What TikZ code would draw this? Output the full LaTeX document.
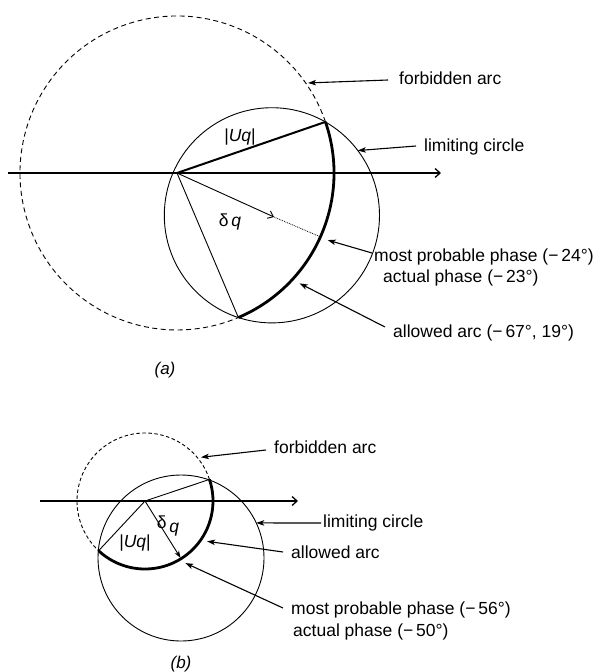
\documentclass[tikz,border=0pt]{standalone}
\usepackage{fontspec}
\setmainfont{Liberation Sans}
\usetikzlibrary{arrows.meta,calc}
\begin{document}
\begin{tikzpicture}[x=1pt,y=1pt,
  lbl/.style={font=\fontsize{17.5}{21}\selectfont, inner sep=0pt, anchor=base west},
  sym/.style={font=\fontsize{17.5}{21}\selectfont, inner sep=0pt},
  figcaption/.style={font=\fontsize{17}{20}\selectfont\itshape, inner sep=0pt},
  callout/.style={line width=1.1pt, -{Stealth[length=8pt,width=5.5pt,inset=2pt]}},
  axisline/.style={line width=1.3pt, -{Straight Barb[length=5pt,width=9pt]}},
  thinline/.style={line width=0.9pt},
  thickline/.style={line width=2pt},
  allowedarc/.style={line width=2.8pt},
  limitcircle/.style={line width=0.9pt},
  forbidA/.style={line width=0.9pt, dash pattern=on 5pt off 3.5pt},
  forbidB/.style={line width=0.9pt, dash pattern=on 3.5pt off 2.5pt}
]
\useasboundingbox (0,0) rectangle (596,-672);

% ================= (a) =================
\coordinate (Oa) at (177,-173);
\coordinate (P1a) at ($(Oa)+(19:157)$);
\coordinate (P2a) at ($(Oa)+(-67:157)$);
\coordinate (Ca) at ($(Oa)+(94.9,-42.3)$);
\coordinate (AxAs) at (8,-173);
\coordinate (AxAe) at (441,-173);
\coordinate (Da) at ($(Oa)+(-24.4:106.5)$);
\coordinate (Ma) at ($(Oa)+(-24:157)$);

\draw[axisline] (AxAs) -- (AxAe);
\draw[forbidA] (P1a) arc[start angle=19, end angle=293, radius=157];
\draw[allowedarc] (P2a) arc[start angle=-67, end angle=19, radius=157];
\draw[limitcircle] (Ca) circle[radius=107.6];
\draw[thickline] (Oa) -- (P1a);
\draw[thinline] (Oa) -- (P2a);
\draw[thinline, -{Straight Barb[length=5pt,width=8pt]}] (Oa) -- (Da);
\draw[line width=0.8pt, densely dotted] (Da) -- (Ma);

\node[sym] (Uqa) at (240,-137) {|\textit{Uq}|};
\node[sym] (dqa) at (230,-222) {δ\,\textit{q}};

\node[lbl] (fa) at (399,-84) {forbidden arc};
\node[lbl] (la) at (424,-151) {limiting circle};
\node[lbl] (mpa) at (374,-261) {most probable phase (−\,24°)};
\node[lbl] (apa) at (383,-282) {actual phase (−\,23°)};
\node[lbl] (aaa) at (393,-337) {allowed arc (−\,67°, 19°)};

\coordinate (faTip) at ($(Oa)+(34.5:159)$);
\coordinate (laTip) at ($(Ca)+(37:107.6)$);
\coordinate (mpaTip) at ($(Oa)+(-24:165)$);
\coordinate (aaaTip) at ($(Oa)+(-42:165)$);

\draw[callout] ([shift={(-11,4)}]fa.base west) -- (faTip);
\draw[callout] ([shift={(-8,5)}]la.base west) -- (laTip);
\draw[callout] ([shift={(-2,8)}]mpa.base west) -- (mpaTip);
\draw[callout] ([shift={(-8,10)}]aaa.base west) -- (aaaTip);

\node[figcaption] (capa) at (165,-370) {(a)};

% ================= (b) =================
\coordinate (Ob) at (145,-501);
\coordinate (P1b) at ($(Ob)+(18.5:68)$);
\coordinate (P2b) at ($(Ob)+(227:68)$);
\coordinate (Cb) at ($(Ob)+(36,-57)$);
\coordinate (AxBs) at (40,-501);
\coordinate (AxBe) at (298,-501);
\coordinate (Db) at ($(Ob)+(-58:67)$);

\draw[axisline] (AxBs) -- (AxBe);
\draw[forbidB] (P1b) arc[start angle=18.5, end angle=227, radius=68];
\draw[allowedarc] (P2b) arc[start angle=-133, end angle=18.5, radius=68];
\draw[limitcircle] (Cb) circle[radius=83];
\draw[thinline] (Ob) -- (P1b);
\draw[thinline] (Ob) -- (P2b);
\draw[thinline, -{Stealth[length=7pt,width=5pt,inset=2pt]}] (Ob) -- (Db);

\node[sym] (Uqb) at (135,-543) {|\textit{Uq}|};
\node[sym] (dqb) at (168,-526) {δ\raisebox{-4pt}{\,\textit{q}}};

\node[lbl] (fb) at (274,-453) {forbidden arc};
\node[lbl] (lb) at (323,-527) {limiting circle};
\node[lbl] (ab) at (291,-558) {allowed arc};
\node[lbl] (mpb) at (291,-614) {most probable phase (−\,56°)};
\node[lbl] (apb) at (293,-636) {actual phase (−\,50°)};

\coordinate (fbTip) at ($(Ob)+(38:71)$);
\coordinate (lbTip) at ($(Cb)+(25:83)$);
\coordinate (abTip) at ($(Ob)+(-33:74)$);
\coordinate (mpbTip) at ($(Ob)+(-57:74)$);

\draw[callout] ([shift={(-8,3)}]fb.base west) -- (fbTip);
\draw[callout] ([shift={(-2,4)}]lb.base west) -- (lbTip);
\draw[callout] ([shift={(-8,6)}]ab.base west) -- (abTip);
\draw[callout] ([shift={(-8,6)}]mpb.base west) -- (mpbTip);

\node[figcaption] (capb) at (181,-664) {(b)};
\end{tikzpicture}
\end{document}
